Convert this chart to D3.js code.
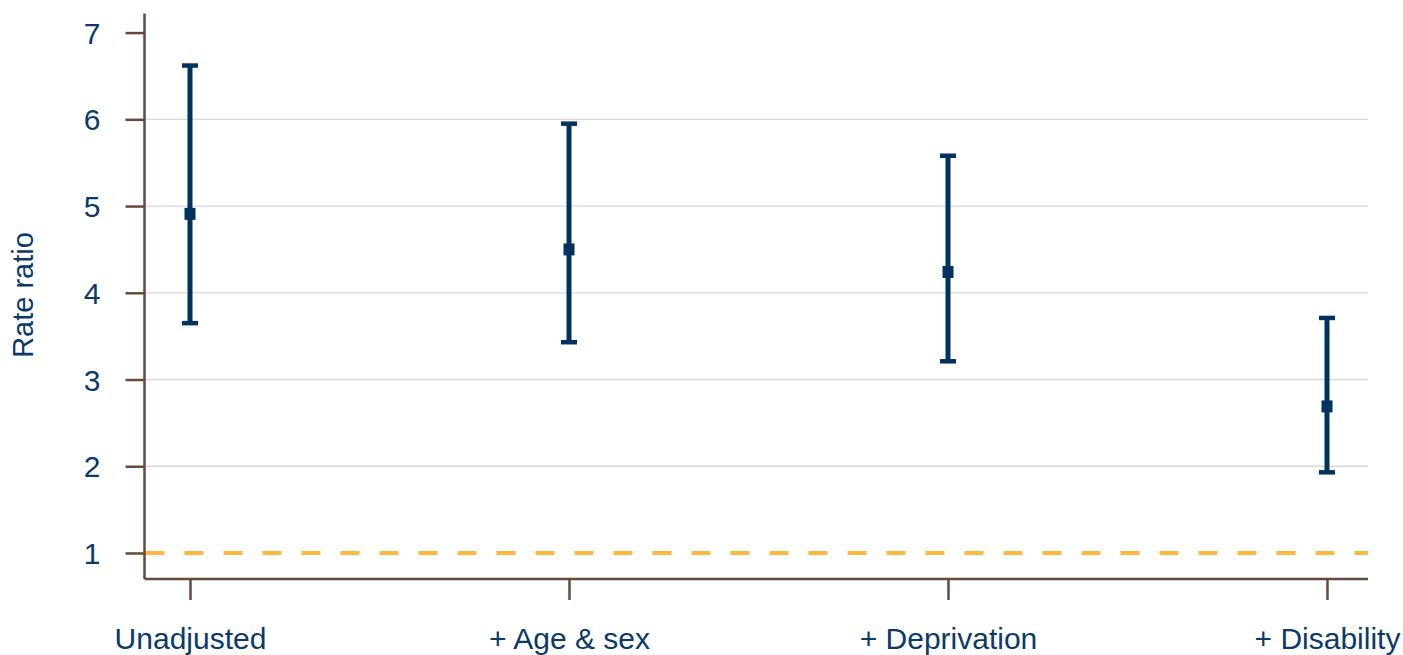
<!DOCTYPE html>
<html>
<head>
<meta charset="utf-8">
<script src="https://cdn.jsdelivr.net/npm/d3@7"></script>
<style>
  html, body { margin: 0; padding: 0; background: #ffffff; }
  svg { display: block; font-family: "Liberation Sans", Arial, sans-serif; }
</style>
</head>
<body>
<svg id="chart" width="1403" height="655"></svg>
<script>
// Rate ratios with 95% confidence intervals, by level of adjustment
const categories = ["Unadjusted", "+ Age & sex", "+ Deprivation", "+ Disability"];
const estimate = [4.91, 4.50, 4.24, 2.69];
const lower    = [3.65, 3.43, 3.21, 1.93];
const upper    = [6.62, 5.95, 5.58, 3.71];
const yTicks   = [1, 2, 3, 4, 5, 6, 7];
const gridValues = [2, 3, 4, 5, 6];
const referenceValue = 1;

const textColor = "#0b3a68";
const markColor = "#02335f";
const axisColor = "#654a3c";
const gridColor = "#d9d9d9";
const refColor  = "#fdb840";

const svg = d3.select("#chart");

const plotLeft = 144.5, plotRight = 1368, plotTop = 13.5, plotBottom = 579;

const y = d3.scaleLinear().domain([0.7, 7.22]).range([plotBottom, plotTop]);
const x = d3.scalePoint().domain(categories).range([190, 1327]);

// Horizontal gridlines
svg.append("g")
  .selectAll("line")
  .data(gridValues)
  .join("line")
  .attr("x1", plotLeft).attr("x2", plotRight)
  .attr("y1", d => y(d)).attr("y2", d => y(d))
  .attr("stroke", gridColor).attr("stroke-width", 1.3);

// Reference line at a ratio of 1
svg.append("line")
  .attr("x1", plotLeft + 1).attr("x2", plotRight)
  .attr("y1", y(referenceValue)).attr("y2", y(referenceValue))
  .attr("stroke", refColor).attr("stroke-width", 4.2)
  .attr("stroke-dasharray", "19 20");

// Y axis
const yAxis = svg.append("g")
  .attr("transform", `translate(${plotLeft},0)`)
  .call(d3.axisLeft(y).tickValues(yTicks).tickSize(19).tickPadding(25).tickFormat(d3.format("d")));
yAxis.select(".domain").attr("d", `M0,${plotTop}V${plotBottom}`)
  .attr("stroke", axisColor).attr("stroke-width", 2.5);
yAxis.selectAll(".tick line").attr("stroke", axisColor).attr("stroke-width", 2.5);
yAxis.selectAll(".tick text")
  .attr("fill", textColor).attr("font-size", 30)
  .attr("font-family", "Liberation Sans, Arial, sans-serif")
  .attr("dy", "0.35em");

// X axis
const xAxis = svg.append("g")
  .attr("transform", `translate(0,${plotBottom})`)
  .call(d3.axisBottom(x).tickSize(21).tickPadding(0));
xAxis.select(".domain").attr("d", `M${plotLeft},0H${plotRight}`)
  .attr("stroke", axisColor).attr("stroke-width", 2.5);
xAxis.selectAll(".tick line").attr("stroke", axisColor).attr("stroke-width", 2.5);
xAxis.selectAll(".tick text")
  .attr("fill", textColor).attr("font-size", 30)
  .attr("font-family", "Liberation Sans, Arial, sans-serif")
  .attr("y", 70).attr("dy", 0);

// Y axis title
svg.append("text")
  .attr("transform", `translate(33,295) rotate(-90)`)
  .attr("text-anchor", "middle")
  .attr("fill", textColor).attr("font-size", 29)
  .text("Rate ratio");

// Error bars with caps and point estimates
const rows = categories.map((c, i) => ({ c, est: estimate[i], lo: lower[i], hi: upper[i] }));
const bars = svg.append("g").selectAll("g").data(rows).join("g");
bars.append("line")
  .attr("x1", d => x(d.c)).attr("x2", d => x(d.c))
  .attr("y1", d => y(d.lo)).attr("y2", d => y(d.hi))
  .attr("stroke", markColor).attr("stroke-width", 5);
bars.selectAll(".cap")
  .data(d => [{ c: d.c, v: d.lo }, { c: d.c, v: d.hi }])
  .join("line")
  .attr("class", "cap")
  .attr("x1", d => x(d.c) - 8).attr("x2", d => x(d.c) + 8)
  .attr("y1", d => y(d.v)).attr("y2", d => y(d.v))
  .attr("stroke", markColor).attr("stroke-width", 4.5);
bars.append("rect")
  .attr("x", d => x(d.c) - 5.5).attr("y", d => y(d.est) - 6)
  .attr("width", 11).attr("height", 12)
  .attr("fill", markColor);
</script>
</body>
</html>
